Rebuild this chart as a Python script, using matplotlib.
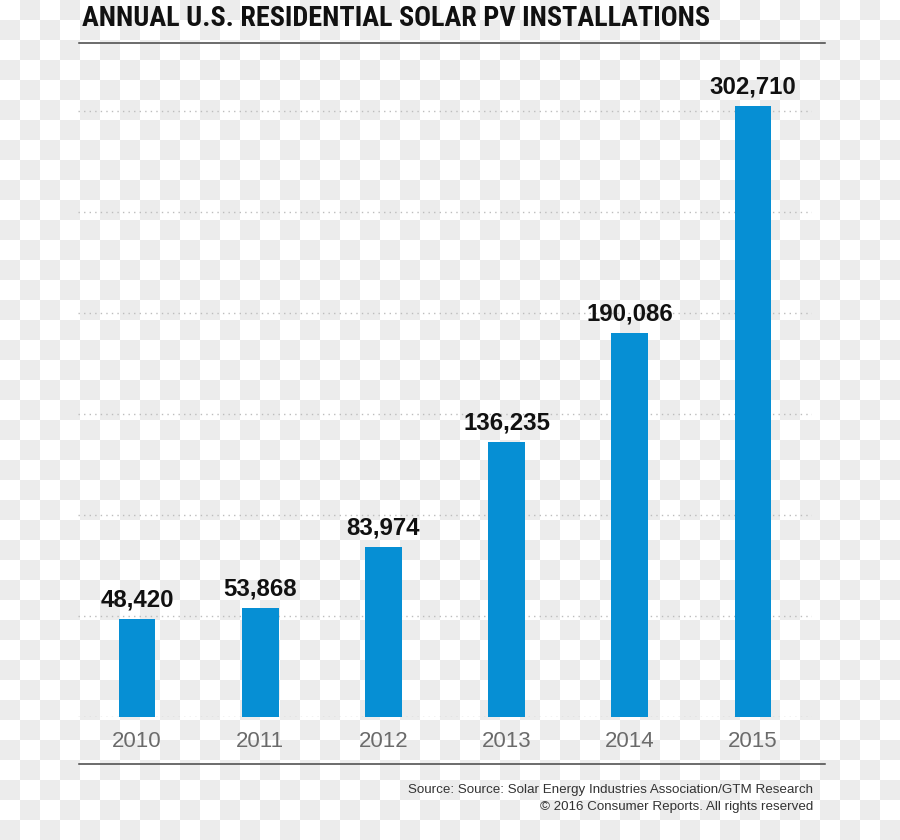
import numpy as np
import matplotlib.pyplot as plt
from matplotlib.lines import Line2D

years = ['2010', '2011', '2012', '2013', '2014', '2015']
installs = [48420, 53868, 83974, 136235, 190086, 302710]
gridvals = [0, 50000, 100000, 150000, 200000, 250000, 300000]

W, H = 900, 840
fig = plt.figure(figsize=(W/100, H/100), dpi=100)

# checkerboard background (transparency pattern in the reference)
ii, jj = np.meshgrid(np.arange(W)//20, np.arange(H)//20)
board = np.where((ii + jj) % 2 == 1, 0.925, 1.0)
bg = fig.add_axes([0, 0, 1, 1], zorder=-5)
bg.imshow(board, cmap='gray', vmin=0, vmax=1, interpolation='nearest',
          extent=(0, W, H, 0), aspect='auto')
bg.axis('off')

ax_l, ax_r = 78, 812
ax_b, ax_t = 716.7, 50.4
ax = fig.add_axes([ax_l/W, 1-ax_b/H, (ax_r-ax_l)/W, (ax_b-ax_t)/H])
ax.patch.set_alpha(0)

x = np.arange(len(years))
bars = ax.bar(x, installs, width=0.30, color='#068FD4', zorder=3)
for xi, v in zip(x, installs):
    ax.annotate('{:,}'.format(v), (xi, v), xytext=(0, 9), textcoords='offset points',
                ha='center', va='baseline', fontsize=17.3, fontweight='bold',
                family='Liberation Sans', color='#111111')

ax.set_xlim(-0.479, 5.479)
ax.set_ylim(0, 330000)
ax.set_yticks(gridvals)
ax.set_yticklabels([])
ax.set_xticks(x)
ax.set_xticklabels(years, fontsize=16, color='#6b6b6b', family='Liberation Sans')
ax.tick_params(axis='both', length=0)
ax.tick_params(axis='x', pad=10)
ax.grid(axis='y', color='#bdbdbd', linestyle=(0, (1, 3)), linewidth=1, zorder=0)
ax.set_axisbelow(True)
for s in ax.spines.values():
    s.set_visible(False)

# rules
fig.add_artist(Line2D([79/W, 825/W], [1-43.3/H, 1-43.3/H], transform=fig.transFigure,
                      color='#444444', linewidth=1.1))
fig.add_artist(Line2D([79/W, 825/W], [1-764/H, 1-764/H], transform=fig.transFigure,
                      color='#444444', linewidth=1.1))

title = fig.text(82/W, 1-26/H, 'ANNUAL U.S. RESIDENTIAL SOLAR PV INSTALLATIONS',
                 family=['Roboto Condensed', 'Liberation Sans Narrow', 'Barlow Semi Condensed',
                         'Barlow Condensed', 'DejaVu Sans'],
                 fontweight='bold', fontsize=24, color='#111111', va='baseline', ha='left')
# fit title width to the reference (about 630 px)
r = fig.canvas.get_renderer()
tw = title.get_window_extent(r).width
title.set_fontsize(24 * 630 / tw)

fig.text(813/W, 1-793/H, 'Source: Source: Solar Energy Industries Association/GTM Research',
         family='Liberation Sans', fontsize=9.65, color='#333333', ha='right', va='baseline')
fig.text(813/W, 1-810/H, '\u00a9 2016 Consumer Reports. All rights reserved',
         family='Liberation Sans', fontsize=9.65, color='#333333', ha='right', va='baseline')

fig.savefig('out.png', dpi=100)
